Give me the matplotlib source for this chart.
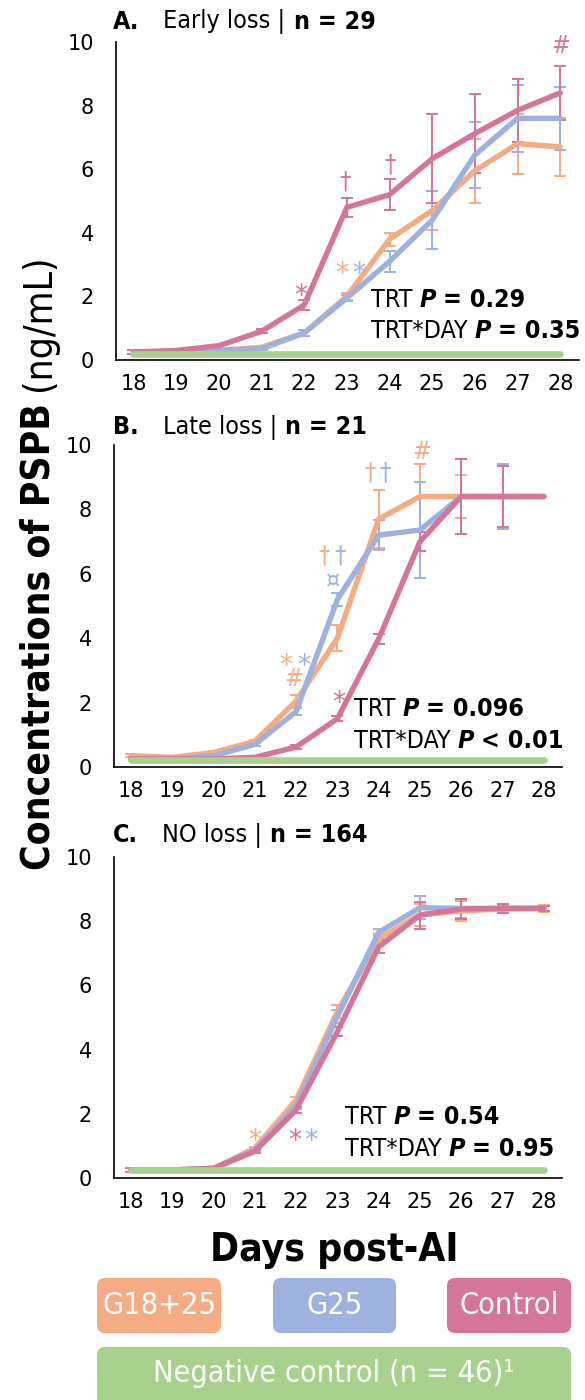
import matplotlib
matplotlib.use("Agg")
import matplotlib.pyplot as plt
from matplotlib.transforms import IdentityTransform
from matplotlib.patches import FancyBboxPatch

W, H = 585, 1400

days = list(range(18, 29))

# colours
c_g1825 = "#F5AC84"
c_g25 = "#9FB1DE"
c_ctrl = "#D57599"
c_neg = "#A9D18E"

# A. Early loss
a_g1825 = [0.25, 0.25, 0.3, 0.4, 0.85, 2.0, 3.8, 4.7, 5.95, 6.8, 6.7]
a_g1825_err = [0, 0, 0, 0.05, 0.1, 0.1, 0.2, 0.6, 1.0, 0.95, 0.9]
a_g25 = [0.25, 0.25, 0.3, 0.35, 0.85, 1.95, 3.1, 4.4, 6.45, 7.6, 7.6]
a_g25_err = [0, 0, 0, 0.05, 0.1, 0.1, 0.33, 0.9, 1.05, 1.05, 1.0]
a_ctrl = [0.25, 0.3, 0.45, 0.9, 1.73, 4.8, 5.2, 6.33, 7.12, 7.85, 8.4]
a_ctrl_err = [0.05, 0, 0, 0.06, 0.15, 0.3, 0.48, 1.4, 1.25, 1.0, 0.85]
a_neg = [0.2] * 11

# B. Late loss
b_g1825 = [0.35, 0.3, 0.45, 0.8, 2.05, 4.0, 7.7, 8.4, 8.4, 8.4, 8.4]
b_g1825_err = [0.05, 0, 0.05, 0.05, 0.2, 0.4, 0.9, 1.0, 0.67, 0, 0]
b_g25 = [0.25, 0.25, 0.35, 0.7, 1.72, 5.2, 7.2, 7.36, 8.4, 8.4, 8.4]
b_g25_err = [0, 0, 0, 0.05, 0.1, 0.2, 0.47, 1.5, 1.17, 1.0, 0]
b_ctrl = [0.25, 0.25, 0.25, 0.3, 0.62, 1.5, 3.98, 7.0, 8.4, 8.4, 8.4]
b_ctrl_err = [0, 0, 0, 0, 0.05, 0.08, 0.16, 0.3, 1.15, 0.95, 0]
b_neg = [0.23] * 11

# C. NO loss
c_g1825_v = [0.25, 0.25, 0.3, 0.93, 2.43, 5.18, 7.45, 8.2, 8.32, 8.38, 8.4]
c_g1825_err = [0, 0, 0, 0.05, 0.1, 0.2, 0.15, 0.35, 0.3, 0.12, 0.1]
c_g25_v = [0.25, 0.25, 0.3, 0.87, 2.25, 5.03, 7.65, 8.42, 8.4, 8.4, 8.4]
c_g25_err = [0, 0, 0, 0.05, 0.1, 0.2, 0.12, 0.35, 0.3, 0.12, 0.08]
c_ctrl_v = [0.25, 0.25, 0.3, 0.83, 2.12, 4.56, 7.2, 8.19, 8.38, 8.4, 8.4]
c_ctrl_err = [0.05, 0, 0, 0.05, 0.1, 0.15, 0.2, 0.42, 0.32, 0.15, 0.08]
c_neg_v = [0.25] * 11

# significance marks: (day, value, symbol, colour)
a_marks = [(21.91, 2.3, "*", c_ctrl), (22.88, 3.0, "*", c_g1825), (23.28, 3.0, "*", c_g25),
           (22.96, 5.65, "†", c_ctrl), (24.02, 6.2, "†", c_ctrl), (28.02, 9.95, "#", c_ctrl)]
b_marks = [(21.76, 3.42, "*", c_g1825), (22.18, 3.42, "*", c_g25), (21.95, 2.8, "#", c_g1825),
           (22.68, 6.6, "†", c_g1825), (23.06, 6.6, "†", c_g25), (22.9, 5.85, "¤", c_g25),
           (23.8, 9.2, "†", c_g1825), (24.15, 9.2, "†", c_g25), (25.04, 9.85, "#", c_g1825),
           (23.04, 2.28, "*", c_ctrl)]
c_marks = [(21.0, 1.45, "*", c_g1825), (21.98, 1.45, "*", c_ctrl), (22.36, 1.45, "*", c_g25)]

a_stats = ["0.29", "= 0.35"]
b_stats = ["0.096", "< 0.01"]
c_stats = ["0.54", "= 0.95"]

titles = [("A.", "Early loss |", "n = 29"), ("B.", "Late loss |", "n = 21"), ("C.", "NO loss |", "n = 164")]

# symbol size and where the glyph's middle sits above the baseline (fraction of size)
sym_size = {"*": 21, "†": 18, "#": 18, "¤": 18}
sym_mid = {"*": 0.6, "†": 0.33, "#": 0.36, "¤": 0.38}

plt.rcParams["font.family"] = "DejaVu Sans"
fig = plt.figure(figsize=(W / 100, H / 100), dpi=100)
ID = IdentityTransform()


def rich(x, y, parts, size, rot=0, va="center"):
    # parts: (text, weight, style, gap in px after)
    r = fig.canvas.get_renderer()
    for s, w, st, gap in parts:
        t = fig.text(x, y, s, transform=ID, fontsize=size, fontweight=w, fontstyle=st,
                     fontstretch="condensed", rotation=rot, rotation_mode="anchor",
                     ha="left", va=va)
        bb = t.get_window_extent(r)
        if rot:
            y += bb.height + gap
        else:
            x += bb.width + gap


def panel(rect, series, neg, marks, stats, stat_pos):
    ax = fig.add_axes(rect)
    for vals, errs, col in series:
        ax.plot(days, vals, color=col, lw=3.9, solid_capstyle="round", zorder=3)
        ed = [d for d, e in zip(days, errs) if e > 0]
        ev = [v for v, e in zip(vals, errs) if e > 0]
        ee = [e for e in errs if e > 0]
        ax.errorbar(ed, ev, yerr=ee, fmt="none", ecolor=col, elinewidth=1.4,
                    capsize=4.5, capthick=1.4, zorder=2)
    ax.plot(days, neg, color=c_neg, lw=4.8, solid_capstyle="round", zorder=4)
    for d, v, s, col in marks:
        sz = sym_size[s]
        ax.annotate(s, (d, v), xytext=(0, -sym_mid[s] * sz), textcoords="offset points",
                    color=col, fontsize=sz, ha="center", va="baseline",
                    fontstretch="condensed", zorder=5)
    ax.set_xlim(17.59, 28.44)
    ax.set_ylim(0, 10)
    ax.set_xticks(days)
    ax.set_yticks([0, 2, 4, 6, 8, 10])
    for sp in ["top", "right"]:
        ax.spines[sp].set_visible(False)
    for sp in ["left", "bottom"]:
        ax.spines[sp].set_linewidth(1.2)
    ax.tick_params(length=0, labelsize=15)
    ax.tick_params(axis="y", pad=16)
    ax.tick_params(axis="x", pad=10)
    ax.patch.set_alpha(0)
    fig.canvas.draw()
    x0, y0 = ax.transData.transform(stat_pos)
    y1 = ax.transData.transform((stat_pos[0], stat_pos[1] - 1.0))[1]
    rich(x0, y0, [("TRT", "normal", "normal", 7), ("P", "bold", "italic", 7),
                  ("= " + stats[0], "bold", "normal", 0)], 18)
    rich(x0, y1, [("TRT*DAY", "normal", "normal", 7), ("P", "bold", "italic", 7),
                  (stats[1], "bold", "normal", 0)], 18)
    return ax


panel([116 / W, 1 - 360 / H, 463 / W, 318 / H],
      [(a_g1825, a_g1825_err, c_g1825), (a_g25, a_g25_err, c_g25), (a_ctrl, a_ctrl_err, c_ctrl)],
      a_neg, a_marks, a_stats, (23.57, 1.9))
panel([114 / W, 1 - 767 / H, 448 / W, 322 / H],
      [(b_g1825, b_g1825_err, c_g1825), (b_g25, b_g25_err, c_g25), (b_ctrl, b_ctrl_err, c_ctrl)],
      b_neg, b_marks, b_stats, (23.4, 1.8))
panel([114 / W, 1 - 1178 / H, 448 / W, 321 / H],
      [(c_g1825_v, c_g1825_err, c_g1825), (c_g25_v, c_g25_err, c_g25), (c_ctrl_v, c_ctrl_err, c_ctrl)],
      c_neg_v, c_marks, c_stats, (23.18, 1.9))

# panel titles
for (lab, mid, n), ytop in zip(titles, [22, 427, 835]):
    rich(113, H - ytop, [(lab, "bold", "normal", 24), (mid, "normal", "normal", 8),
                         (n, "bold", "normal", 0)], 18)

# axis titles
rich(50, H - 870, [("Concentrations of PSPB", "bold", "normal", 12),
                   ("(ng/mL)", "normal", "normal", 0)], 28, rot=90, va="baseline")
fig.text(334 / W, 1 - 1250 / H, "Days post-AI", fontsize=28, fontweight="bold",
         fontstretch="condensed", ha="center", va="center")


def legend_box(x0, x1, ytop, ybot, col, lab, ytext):
    box = FancyBboxPatch((x0, H - ybot), x1 - x0, ybot - ytop,
                         boxstyle="round,pad=0,rounding_size=8", transform=ID,
                         facecolor=col, edgecolor="none")
    fig.patches.append(box)
    fig.text((x0 + x1) / 2 / W, 1 - ytext / H, lab, color="white", fontsize=22,
             fontstretch="condensed", ha="center", va="center")


legend_items = [("G18+25", c_g1825, 97, 221), ("G25", c_g25, 273, 396), ("Control", c_ctrl, 447, 571)]
for lab, col, x0, x1 in legend_items:
    legend_box(x0, x1, 1278, 1333, col, lab, 1305)
legend_box(97, 571, 1347, 1408, c_neg, "Negative control (n = 46)¹", 1374)

fig.savefig("out.png", dpi=100)
